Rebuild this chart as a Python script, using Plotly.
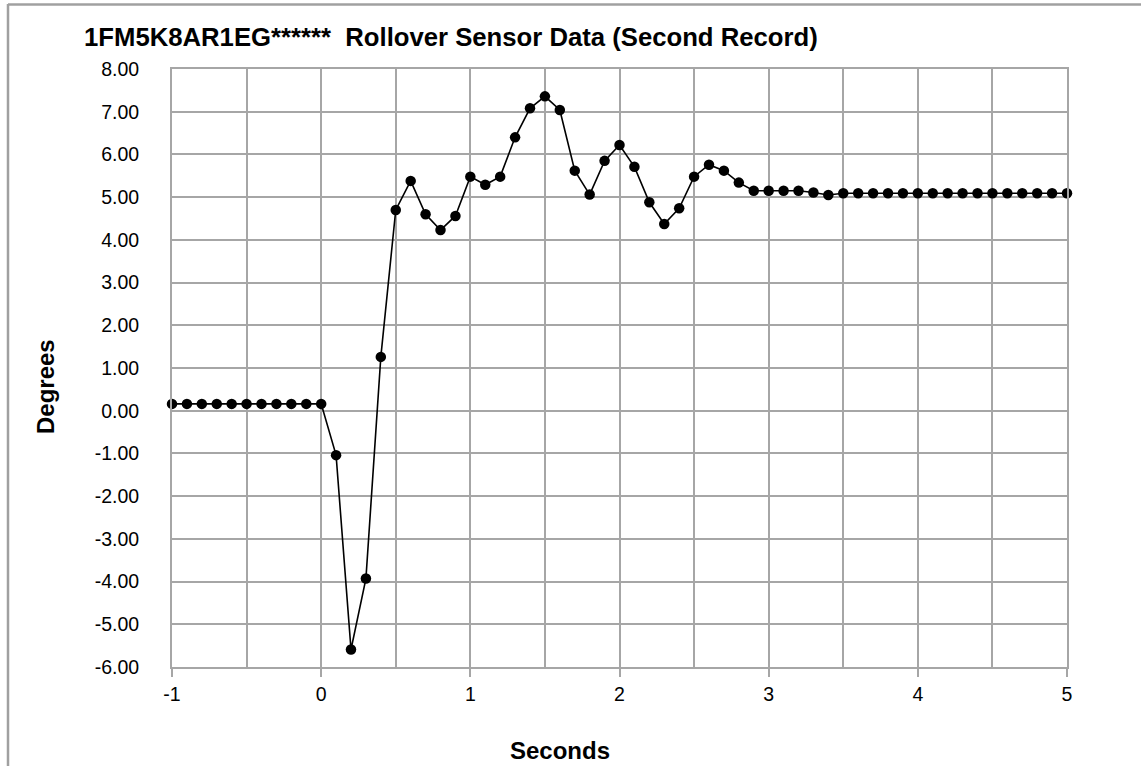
import plotly.graph_objects as go

seconds = [-1.0, -0.9, -0.8, -0.7, -0.6, -0.5, -0.4, -0.3, -0.2, -0.1, 0.0,
           0.1, 0.2, 0.3, 0.4, 0.5, 0.6, 0.7, 0.8, 0.9, 1.0,
           1.1, 1.2, 1.3, 1.4, 1.5, 1.6, 1.7, 1.8, 1.9, 2.0,
           2.1, 2.2, 2.3, 2.4, 2.5, 2.6, 2.7, 2.8, 2.9, 3.0,
           3.1, 3.2, 3.3, 3.4, 3.5, 3.6, 3.7, 3.8, 3.9, 4.0,
           4.1, 4.2, 4.3, 4.4, 4.5, 4.6, 4.7, 4.8, 4.9, 5.0]
degrees = [0.16, 0.16, 0.16, 0.16, 0.16, 0.16, 0.16, 0.16, 0.16, 0.16, 0.16,
           -1.04, -5.59, -3.93, 1.26, 4.70, 5.38, 4.60, 4.23, 4.56, 5.48,
           5.29, 5.48, 6.40, 7.08, 7.36, 7.04, 5.62, 5.06, 5.85, 6.22,
           5.71, 4.88, 4.37, 4.74, 5.48, 5.76, 5.62, 5.34, 5.15, 5.15,
           5.15, 5.15, 5.11, 5.05, 5.09, 5.09, 5.09, 5.09, 5.09, 5.09,
           5.09, 5.09, 5.09, 5.09, 5.09, 5.09, 5.09, 5.09, 5.09, 5.09]

x_ticks = [-1, 0, 1, 2, 3, 4, 5]
y_ticks = [8, 7, 6, 5, 4, 3, 2, 1, 0, -1, -2, -3, -4, -5, -6]
y_tick_labels = ["8.00", "7.00", "6.00", "5.00", "4.00", "3.00", "2.00", "1.00",
                 "0.00", "-1.00", "-2.00", "-3.00", "-4.00", "-5.00", "-6.00"]

title_text = "1FM5K8AR1EG******\u00a0\u00a0Rollover Sensor Data (Second Record)"

FONT = "Liberation Sans, Arial, sans-serif"
GRID = "#A6A6A6"

W, H = 1141, 766
L, R, T, B = 172, 1067, 69, 667

def px(x):
    return (x - L) / (R - L)

def py(y):
    return (B - y) / (B - T)

fig = go.Figure()
fig.add_trace(go.Scatter(
    x=seconds, y=degrees, mode="lines+markers",
    line=dict(color="black", width=1.6),
    marker=dict(color="black", size=10.5),
    cliponaxis=False, showlegend=False,
))

fig.update_layout(
    width=W, height=H,
    margin=dict(l=L, r=W - R, t=T, b=H - B, pad=0),
    paper_bgcolor="white", plot_bgcolor="white",
    font=dict(family=FONT, color="black", size=20),
    xaxis=dict(
        range=[-1, 5], tickvals=x_ticks, ticktext=[str(v) for v in x_ticks],
        showgrid=True, gridcolor=GRID, gridwidth=2,
        minor=dict(dtick=0.5, tick0=0, showgrid=True, gridcolor=GRID, gridwidth=2),
        showline=True, linecolor=GRID, linewidth=2, mirror=True,
        ticks="outside", ticklen=8, tickwidth=2, tickcolor=GRID,
        tickfont=dict(size=19.5), ticklabelstandoff=1, zeroline=False,
    ),
    yaxis=dict(
        range=[-6, 8], tickvals=y_ticks, ticktext=y_tick_labels,
        showgrid=True, gridcolor=GRID, gridwidth=2,
        showline=True, linecolor=GRID, linewidth=2, mirror=True,
        ticks="", tickfont=dict(size=19.5), ticklabelstandoff=27, zeroline=False,
    ),
    annotations=[
        dict(text="<b>" + title_text + "</b>", xref="paper", yref="paper",
             x=px(82), y=py(37), xanchor="left", yanchor="middle",
             showarrow=False, font=dict(size=25.7, family=FONT, color="black")),
        dict(text="<b>Seconds</b>", xref="paper", yref="paper",
             x=px(560), y=py(750), xanchor="center", yanchor="middle",
             showarrow=False, font=dict(size=24, family=FONT, color="black")),
        dict(text="<b>Degrees</b>", xref="paper", yref="paper",
             x=px(45), y=py(387), xanchor="center", yanchor="middle", textangle=-90,
             showarrow=False, font=dict(size=24, family=FONT, color="black")),
    ],
    shapes=[
        dict(type="line", xref="paper", yref="paper", x0=px(8), x1=px(8),
             y0=py(4), y1=py(766), line=dict(color="#A0A0A0", width=2.5)),
        dict(type="line", xref="paper", yref="paper", x0=px(8), x1=px(1141),
             y0=py(4.5), y1=py(4.5), line=dict(color="#A0A0A0", width=2.5)),
    ],
)

fig.write_html("out.html", config={"displayModeBar": False},
               post_script="document.body.style.margin='0';document.body.style.overflow='hidden';")
